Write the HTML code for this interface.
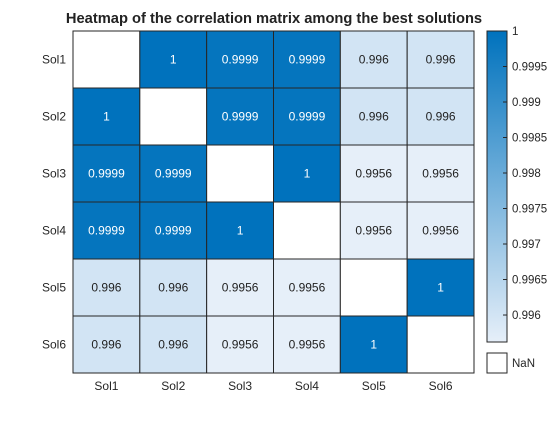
<!DOCTYPE html>
<html><head><meta charset="utf-8"><style>
body{margin:0;background:#fff}
svg text{font-family:"Liberation Sans",Arial,sans-serif}
</style></head><body>
<svg id="chart" width="560" height="420" viewBox="0 0 560 420" xmlns="http://www.w3.org/2000/svg">
<rect width="560" height="420" fill="#fff"/>
<text x="274" y="23" text-anchor="middle" font-size="14.7" font-weight="bold" fill="#222">Heatmap of the correlation matrix among the best solutions</text>
<g id="cells"></g>
<g id="labels"></g>
<g id="cbar"></g>
</svg>
<script>
const rowLabels = ["Sol1","Sol2","Sol3","Sol4","Sol5","Sol6"];
const colLabels = ["Sol1","Sol2","Sol3","Sol4","Sol5","Sol6"];
const valRow1 = [null,1,0.9999,0.9999,0.996,0.996];
const valRow2 = [1,null,0.9999,0.9999,0.996,0.996];
const valRow3 = [0.9999,0.9999,null,1,0.9956,0.9956];
const valRow4 = [0.9999,0.9999,1,null,0.9956,0.9956];
const valRow5 = [0.996,0.996,0.9956,0.9956,null,1];
const valRow6 = [0.996,0.996,0.9956,0.9956,1,null];
const cbarTicks = [1,0.9995,0.999,0.9985,0.998,0.9975,0.997,0.9965,0.996];
const cmin = 0.99562, cmax = 1;

const matrix = [valRow1,valRow2,valRow3,valRow4,valRow5,valRow6];
const NS = "http://www.w3.org/2000/svg";
const X0=73, X1=474, Y0=31, Y1=373;
const cw=(X1-X0)/colLabels.length, ch=(Y1-Y0)/rowLabels.length;
const xPos = i => X0 + i*cw;
const yPos = j => Y0 + j*ch;
function color(v){
  let t=(v-cmin)/(cmax-cmin); t=Math.max(0,Math.min(1,t));
  const a=[230,239,249], b=[0,114,189];
  return `rgb(${a.map((c,k)=>Math.round(c+(b[k]-c)*t)).join(",")})`;
}
function fmt(v){ return String(v); }
function mk(tag, attrs, parent){
  const e=document.createElementNS(NS,tag);
  for(const k in attrs) e.setAttribute(k,attrs[k]);
  parent.appendChild(e); return e;
}
const cells=document.getElementById('cells');
matrix.forEach((row,j)=>{
  row.forEach((v,i)=>{
    const r=mk('rect',{x:xPos(i),y:yPos(j),width:cw,height:ch,fill:v===null?'#fff':color(v),stroke:'#262626','stroke-width':1},cells);
    
    
    if(v!==null){
      const t=(v-cmin)/(cmax-cmin);
      const tx=mk('text',{x:xPos(i)+cw/2,y:yPos(j)+ch/2+4,'text-anchor':'middle','font-size':12,fill:t>0.5?'#fff':'#222'},cells);
      tx.textContent=fmt(v);
      
      
    }
  });
});
const labels=document.getElementById('labels');
rowLabels.forEach((l,j)=>{
  const t=mk('text',{x:66,y:yPos(j)+ch/2+4,'text-anchor':'end','font-size':12,fill:'#262626'},labels);
  t.textContent=l;
  
  
});
colLabels.forEach((l,i)=>{
  const t=mk('text',{x:xPos(i)+cw/2,y:390,'text-anchor':'middle','font-size':12,fill:'#262626'},labels);
  t.textContent=l;
  
  
});
const cb=document.getElementById('cbar');
const CBX=487, CBW=20, CBT=31, CBB=342;
const cy = v => CBB - (v-cmin)/(cmax-cmin)*(CBB-CBT);
const defs=mk('defs',{},cb);
const grad=mk('linearGradient',{id:'g',x1:0,y1:1,x2:0,y2:0},defs);
mk('stop',{offset:0,'stop-color':color(cmin)},grad);
mk('stop',{offset:1,'stop-color':color(cmax)},grad);
const bar=mk('rect',{x:CBX,y:CBT,width:CBW,height:CBB-CBT,fill:'url(#g)',stroke:'#262626','stroke-width':1},cb);


cbarTicks.forEach(v=>{
  const y=cy(v);
  mk('line',{x1:CBX+CBW-4,x2:CBX+CBW,y1:y,y2:y,stroke:'#262626'},cb);
  const t=mk('text',{x:512,y:y+4,'font-size':11.5,fill:'#262626'},cb);
  t.textContent=String(v);
  
  
});
const nb=mk('rect',{x:CBX,y:353,width:CBW,height:20,fill:'#fff',stroke:'#262626','stroke-width':1},cb);


const nt=mk('text',{x:512,y:367,'font-size':11.5,fill:'#262626'},cb);
nt.textContent='NaN';


</script>
</body></html>
